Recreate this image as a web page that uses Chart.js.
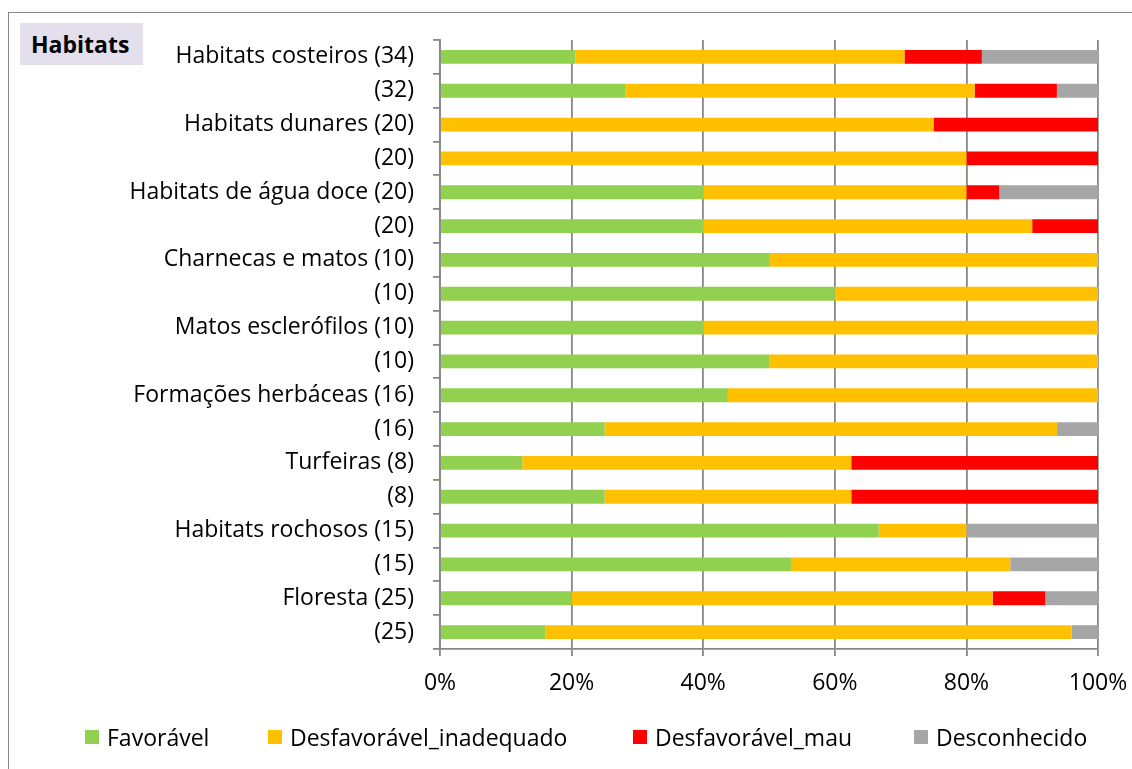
<!DOCTYPE html>
<html>
<head>
<meta charset="utf-8">
<script src="https://cdn.jsdelivr.net/npm/chart.js@4/dist/chart.umd.min.js"></script>
<style>
    body { margin: 0; background: #fff; }
    #wrap { position: relative; width: 1132px; height: 769px; overflow: hidden; font-family: "Open Sans", sans-serif; }
    #frame { position: absolute; left: 8px; top: 12px; right: -10px; bottom: -10px; border-top: 1.5px solid #868686; border-left: 1.5px solid #868686; }
    #title { position: absolute; left: 20px; top: 23px; width: 123px; height: 42px; background: #E4DFEC; font-weight: bold; font-size: 23px; line-height: 42px; padding-left: 11px; box-sizing: border-box; color: #000; }
    canvas { position: absolute; left: 0; top: 0; }
    .legend-item { position: absolute; top: 722px; height: 30px; display: flex; align-items: center; font-size: 23px; color: #000; white-space: nowrap; }
    .legend-item span.box { display: inline-block; width: 14px; height: 14px; margin-right: 8px; }
</style>
</head>
<body>
<div id="wrap">
    <div id="frame"></div>
    <canvas id="chart" width="1132" height="769"></canvas>
    <div id="title">Habitats</div>
    <div id="legend"></div>
</div>
<script>
// Number of habitats per assessment state, two rows per habitat group
const categories = [
    'Habitats costeiros (34)', '(32)',
    'Habitats dunares (20)', '(20)',
    'Habitats de água doce (20)', '(20)',
    'Charnecas e matos (10)', '(10)',
    'Matos esclerófilos (10)', '(10)',
    'Formações herbáceas (16)', '(16)',
    'Turfeiras (8)', '(8)',
    'Habitats rochosos (15)', '(15)',
    'Floresta (25)', '(25)'
];
const favoravel    = [7, 9, 0, 0, 8, 8, 5, 6, 4, 5, 7, 4, 1, 2, 10, 8, 5, 4];
const inadequado   = [17, 17, 15, 16, 8, 10, 5, 4, 6, 5, 9, 11, 4, 3, 2, 5, 16, 20];
const mau          = [4, 4, 5, 4, 1, 2, 0, 0, 0, 0, 0, 0, 3, 3, 0, 0, 2, 0];
const desconhecido = [6, 2, 0, 0, 3, 0, 0, 0, 0, 0, 0, 1, 0, 0, 3, 2, 2, 1];
const xTicks = [0, 20, 40, 60, 80, 100];

const seriesNames = ['Favorável', 'Desfavorável_inadequado', 'Desfavorável_mau', 'Desconhecido'];
const seriesColors = ['#92D050', '#FFC000', '#FF0000', '#A6A6A6'];
const seriesData = [favoravel, inadequado, mau, desconhecido];

// row totals, used to turn counts into shares of 100%
const totals = categories.map((c, i) => seriesData.reduce((s, arr) => s + arr[i], 0));
const toPercent = arr => arr.map((v, i) => v / totals[i] * 100);

const gridColor = '#878787';
const font = { family: '"Open Sans", sans-serif', size: 23 };

const datasets = seriesNames.map((name, k) => ({
    label: name,
    data: toPercent(seriesData[k]),
    backgroundColor: seriesColors[k],
    borderWidth: 0,
    categoryPercentage: 1,
    barPercentage: 0.41
}));

new Chart(document.getElementById('chart').getContext('2d'), {
    type: 'bar',
    data: { labels: categories, datasets: datasets },
    options: {
        indexAxis: 'y',
        responsive: false,
        animation: false,
        layout: { padding: { top: 40, right: 34, left: 0, bottom: 0 } },
        plugins: { legend: { display: false }, tooltip: { enabled: false } },
        scales: {
            x: {
                stacked: true,
                min: 0,
                max: 100,
                afterBuildTicks: scale => { scale.ticks = xTicks.map(v => ({ value: v })); },
                afterFit: scale => {
                    scale.height = 120;
                    // let the 100% label overhang the plot edge
                    scale.paddingLeft = 0;
                    scale.paddingRight = 0;
                },
                ticks: { font: font, color: '#000', padding: 14, callback: v => v + '%', maxRotation: 0 },
                grid: { color: gridColor, lineWidth: 1.8, tickLength: 7 },
                border: { color: gridColor, width: 1.8 }
            },
            y: {
                stacked: true,
                afterFit: scale => { scale.width = 440; },
                ticks: { font: font, color: '#000', padding: 19, autoSkip: false },
                grid: { offset: true, drawOnChartArea: false, color: gridColor, lineWidth: 1.8, tickLength: 7 },
                border: { color: gridColor, width: 1.8 }
            }
        }
    }
});

// legend row under the chart
const legendLeft = [85, 268, 633, 914];
const legend = document.getElementById('legend');
seriesNames.forEach((name, k) => {
    const item = document.createElement('div');
    item.className = 'legend-item';
    item.style.left = legendLeft[k] + 'px';
    item.innerHTML = '<span class="box" style="background:' + seriesColors[k] + '"></span>' + name;
    legend.appendChild(item);
});
</script>
</body>
</html>
